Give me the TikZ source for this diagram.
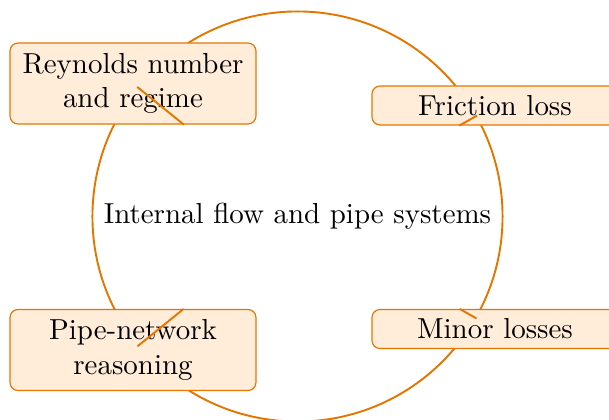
\documentclass[tikz,border=0pt]{standalone}
\definecolor{ocol}{RGB}{228,118,0}
\definecolor{ofill}{RGB}{255,236,217}
\begin{document}
\begin{tikzpicture}[x=0.3455pt,y=-0.3455pt,
  ring/.style={draw=ocol, line width=0.66pt, circle, minimum size=141.7pt, inner sep=0pt},
  topic/.style={draw=ocol, fill=ofill, rounded corners=2.8pt, line width=0.4pt, minimum width=85pt, align=center, inner sep=0pt},
  link/.style={draw=ocol, line width=0.66pt}]
\useasboundingbox (0,0) rectangle (609,419);
\node[ring] (c) at (297.5,216.5) {Internal flow and pipe systems};
\node[topic, minimum height=28pt] (r) at (133,83.5) {Reynolds number\\and regime};
\node[topic, minimum height=13.5pt] (f) at (495,105.5) {Friction loss};
\node[topic, minimum height=13.5pt] (m) at (495,329) {Minor losses};
\node[topic, minimum height=28pt] (p) at (133,350) {Pipe-network\\reasoning};
\draw[link] (c) -- (r);
\draw[link] (c) -- (f);
\draw[link] (c) -- (m);
\draw[link] (c) -- (p);
\end{tikzpicture}
\end{document}
